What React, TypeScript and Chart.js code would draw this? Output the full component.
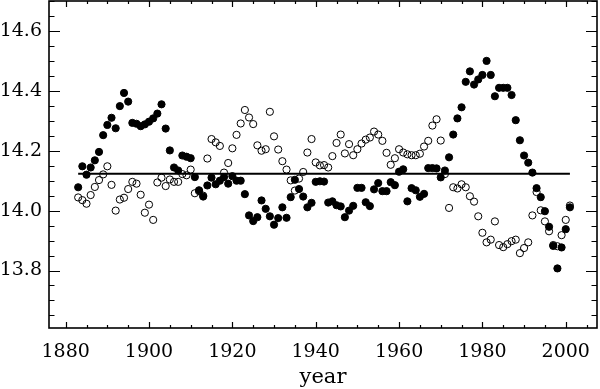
import React, { useEffect, useRef } from "react";
import { Chart, registerables } from "chart.js";

Chart.register(...registerables);

const startYear = 1883;

const filledValues = [
  14.078, 14.148, 14.120, 14.144, 14.168, 14.196, 14.252, 14.286, 14.310, 14.275,
  14.349, 14.393, 14.364, 14.293, 14.290, 14.282, 14.288, 14.297, 14.308, 14.324,
  14.355, 14.274, 14.201, 14.144, 14.134, 14.184, 14.180, 14.175, 14.112, 14.068,
  14.047, 14.084, 14.110, 14.088, 14.100, 14.112, 14.090, 14.115, 14.100, 14.100,
  14.055, 13.984, 13.965, 13.978, 14.034, 14.006, 13.981, 13.953, 13.975, 14.011,
  13.976, 14.045, 14.103, 14.072, 14.047, 14.011, 14.026, 14.096, 14.098, 14.097,
  14.027, 14.031, 14.018, 14.014, 13.978, 14.000, 14.016, 14.076, 14.076, 14.028,
  14.015, 14.071, 14.092, 14.065, 14.065, 14.095, 14.085, 14.130, 14.138, 14.031,
  14.075, 14.068, 14.046, 14.056, 14.142, 14.142, 14.141, 14.111, 14.134, 14.178,
  14.254, 14.308, 14.345, 14.430, 14.465, 14.421, 14.438, 14.453, 14.500, 14.453,
  14.382, 14.410, 14.410, 14.410, 14.386, 14.302, 14.235, 14.184, 14.160, 14.127,
  14.075, 14.045, 13.998, 13.946, 13.882, 13.807, 13.877, 13.938, 14.011,
];

const openValues = [
  14.044, 14.035, 14.023, 14.052, 14.079, 14.102, 14.121, 14.148, 14.086, 14.000,
  14.037, 14.043, 14.072, 14.096, 14.090, 14.053, 13.993, 14.020, 13.969, 14.094,
  14.110, 14.082, 14.104, 14.096, 14.096, 14.122, 14.118, 14.137, 14.058, 14.065,
  14.050, 14.174, 14.239, 14.228, 14.216, 14.127, 14.159, 14.208, 14.253, 14.291,
  14.336, 14.311, 14.289, 14.218, 14.200, 14.205, 14.330, 14.248, 14.204, 14.165,
  14.137, 14.101, 14.067, 14.107, 14.129, 14.194, 14.239, 14.161, 14.151, 14.152,
  14.144, 14.182, 14.226, 14.254, 14.191, 14.222, 14.185, 14.205, 14.224, 14.237,
  14.244, 14.264, 14.254, 14.233, 14.193, 14.153, 14.175, 14.205, 14.194, 14.188,
  14.185, 14.185, 14.190, 14.214, 14.233, 14.284, 14.305, 14.234, 14.122, 14.009,
  14.078, 14.074, 14.088, 14.078, 14.048, 14.030, 13.981, 13.926, 13.894, 13.903,
  13.964, 13.885, 13.878, 13.888, 13.898, 13.903, 13.858, 13.875, 13.894, 13.984,
  14.062, 14.001, 13.964, 13.931, 13.885, 13.881, 13.918, 13.969, 14.017,
];

const years = filledValues.map((_, i) => startYear + i);

const meanLevel = 14.123;
const meanSpan = [1883, 2001];

const xMajorTicks = [1880, 1900, 1920, 1940, 1960, 1980, 2000];
const xMinorStep = 5;
const yMajorTicks = [13.8, 14.0, 14.2, 14.4, 14.6];
const yMinorStep = 0.05;
const xRange = [1876, 2007.5];
const yRange = [13.608, 14.7];

const FONT = { family: "'DejaVu Serif', serif", size: 19 };
const TITLE_FONT = { family: "'DejaVu Serif', serif", size: 21 };

const framePlugin = {
  id: "frameTicks",
  afterDraw(chart: any) {
    const { ctx, chartArea: a, scales } = chart;
    const x = scales.x;
    const y = scales.y;
    ctx.save();
    ctx.strokeStyle = "#000";
    ctx.lineWidth = 1.2;
    ctx.beginPath();
    const x0 = Math.ceil(x.min / xMinorStep);
    const x1 = Math.floor(x.max / xMinorStep);
    for (let k = x0; k <= x1; k++) {
      const v = k * xMinorStep;
      const px = Math.round(x.getPixelForValue(v)) + 0.5;
      const len = xMajorTicks.includes(v) ? 6 : 3;
      ctx.moveTo(px, a.bottom);
      ctx.lineTo(px, a.bottom - len);
      ctx.moveTo(px, a.top);
      ctx.lineTo(px, a.top + len);
    }
    const y0 = Math.ceil(y.min / yMinorStep - 1e-6);
    const y1 = Math.floor(y.max / yMinorStep + 1e-6);
    for (let k = y0; k <= y1; k++) {
      const v = k * yMinorStep;
      const py = Math.round(y.getPixelForValue(v)) + 0.5;
      const major = yMajorTicks.some((t) => Math.abs(t - v) < 1e-6) || Math.abs(v * 5 - Math.round(v * 5)) < 1e-6;
      const len = major ? 11 : 5.5;
      ctx.moveTo(a.left, py);
      ctx.lineTo(a.left + len, py);
      ctx.moveTo(a.right, py);
      ctx.lineTo(a.right - len, py);
    }
    ctx.stroke();
    ctx.lineWidth = 1.6;
    ctx.strokeRect(a.left, a.top, a.right - a.left, a.bottom - a.top);
    ctx.restore();
  },
};

export default function App() {
  const ref = useRef<HTMLCanvasElement | null>(null);

  useEffect(() => {
    if (!ref.current) return;
    const chart = new Chart(ref.current, {
      type: "scatter",
      data: {
        datasets: [
          {
            label: "filled",
            data: years.map((yr, i) => ({ x: yr, y: filledValues[i] })),
            pointRadius: 3.6,
            pointBackgroundColor: "#000",
            pointBorderColor: "#000",
            pointBorderWidth: 1,
            order: 0,
          } as any,
          {
            label: "mean",
            type: "line",
            data: meanSpan.map((yr) => ({ x: yr, y: meanLevel })),
            showLine: true,
            borderColor: "#000",
            borderWidth: 2,
            pointRadius: 0,
            fill: false,
            order: 1,
          } as any,
          {
            label: "open",
            data: years.map((yr, i) => ({ x: yr, y: openValues[i] })),
            pointRadius: 3.6,
            pointBackgroundColor: "rgba(0,0,0,0)",
            pointBorderColor: "#000",
            pointBorderWidth: 1,
            order: 2,
          } as any,
        ],
      },
      options: {
        animation: false,
        responsive: false,
        devicePixelRatio: 1,
        layout: { autoPadding: false, padding: { left: 0, top: 1, right: 3, bottom: 0 } },
        plugins: {
          legend: { display: false },
          tooltip: { enabled: false },
        },
        scales: {
          x: {
            type: "linear",
            min: xRange[0],
            max: xRange[1],
            grid: { display: false, drawTicks: false },
            border: { display: false },
            ticks: {
              font: FONT,
              color: "#000",
              padding: 13,
              maxRotation: 0,
              autoSkip: false,
              callback: (v: any) => String(v),
            },
            afterBuildTicks: (s: any) => {
              s.ticks = xMajorTicks.map((v) => ({ value: v }));
            },
            afterFit: (s: any) => {
              s.height = 61;
              s.paddingLeft = 0;
              s.paddingRight = 0;
            },
            title: {
              display: true,
              text: "year",
              font: TITLE_FONT,
              color: "#000",
              padding: { top: 0, bottom: -1 },
            },
          },
          y: {
            type: "linear",
            min: yRange[0],
            max: yRange[1],
            grid: { display: false, drawTicks: false },
            border: { display: false },
            ticks: {
              font: FONT,
              color: "#000",
              padding: 7,
              autoSkip: false,
              callback: (v: any) => Number(v).toFixed(1),
            },
            afterBuildTicks: (s: any) => {
              s.ticks = yMajorTicks.map((v) => ({ value: v }));
            },
            afterFit: (s: any) => {
              s.width = 49;
              s.paddingTop = 0;
              s.paddingBottom = 0;
            },
          },
        },
      },
      plugins: [framePlugin],
    });
    return () => chart.destroy();
  }, []);

  return (
    <div style={{ position: "fixed", left: 0, top: 0, width: 600, height: 389, background: "#fff" }}>
      <canvas ref={ref} width={600} height={389} />
    </div>
  );
}
